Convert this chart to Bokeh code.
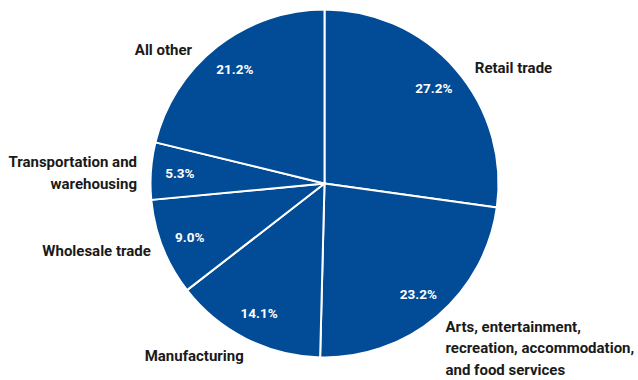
import math
from bokeh.plotting import figure
from bokeh.models import Range1d, ColumnDataSource
from bokeh.core.properties import value
from bokeh.embed import file_html
from bokeh.resources import INLINE

# ---- data ----
categories = ["Retail trade",
              "Arts, entertainment,\nrecreation, accommodation,\nand food services",
              "Manufacturing",
              "Wholesale trade",
              "Transportation and\nwarehousing",
              "All other"]
shares = [27.2, 23.2, 14.1, 9.0, 5.3, 21.2]

# ---- layout (pixels) ----
W, H = 638, 380
CX, CY, R = 324, 380 - 183, 174
PCT_R = 145
LAB_R = 190
LINE_H = 21.5
# small pixel nudges for the outside labels (dx, dy in screen px, y down)
nudges = [(7, 9), (-2, 20), (5, 3), (3, -2), (2, 3), (-15, 16)]
BLUE = "#024b96"

total = sum(shares)
starts, ends, mids = [], [], []
cum = 0.0
for s in shares:
    a0 = math.pi / 2 - 2 * math.pi * cum / total
    cum += s
    a1 = math.pi / 2 - 2 * math.pi * cum / total
    starts.append(a0)
    ends.append(a1)
    mids.append((a0 + a1) / 2)

src = ColumnDataSource(dict(start=starts, end=ends))

p = figure(width=W, height=H, output_backend="svg", toolbar_location=None,
           x_range=Range1d(0, W), y_range=Range1d(0, H),
           min_border=0, min_border_left=0, min_border_right=0,
           min_border_top=0, min_border_bottom=0)
p.axis.visible = False
p.grid.visible = False
p.outline_line_color = None
p.background_fill_color = "white"
p.border_fill_color = "white"

p.wedge(x=CX, y=CY, radius=R, start_angle="start", end_angle="end",
        direction="clock", source=src, fill_color=BLUE,
        line_color="white", line_width=2)

# percent labels
px = [CX + PCT_R * math.cos(m) for m in mids]
py = [CY + PCT_R * math.sin(m) for m in mids]
ptxt = [f"{s:.1f}%" for s in shares]
p.text(x=px, y=py, text=ptxt, text_color="white",
       text_font=value("Roboto"), text_font_style="bold",
       text_font_size="13.5px", text_align="center", text_baseline="middle")

# category labels, one text item per line so each line is aligned
lx, ly, lt, la = [], [], [], []
for cat, m, (dx, dy) in zip(categories, mids, nudges):
    ax = CX + LAB_R * math.cos(m) + dx
    ay = CY + LAB_R * math.sin(m) - dy
    align = "left" if math.cos(m) > 0 else "right"
    lines = cat.split("\n")
    n = len(lines)
    for i, line in enumerate(lines):
        lx.append(ax)
        ly.append(ay - (i - (n - 1) / 2) * LINE_H)
        lt.append(line)
        la.append(align)
lsrc = ColumnDataSource(dict(x=lx, y=ly, t=lt, a=la))
p.text(x="x", y="y", text="t", text_align="a", source=lsrc,
       text_color="#1a1a1a", text_font=value("Roboto"),
       text_font_style="bold", text_font_size="15px",
       text_baseline="middle")

open("out.html", "w").write(file_html(p, INLINE))
